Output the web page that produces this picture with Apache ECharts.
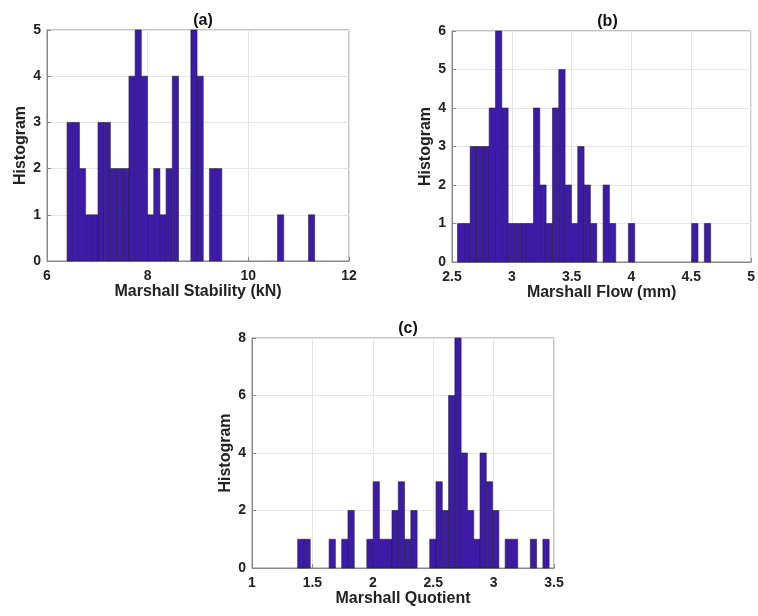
<!DOCTYPE html>
<html>
<head>
<meta charset="utf-8">
<style>
  html, body { margin: 0; padding: 0; background: #fff; }
  #main { width: 758px; height: 616px; }
</style>
<script src="https://cdn.jsdelivr.net/npm/echarts@6/dist/echarts.min.js"></script>
</head>
<body>
<div id="main"></div>
<script>
// (a) Marshall Stability (kN): 40 bins
var stabStart = 6.398;
var stabWidth = 0.123;
var stabCounts = [3,3,2,1,1,3,3,2,2,2,4,5,4,1,2,1,2,4,0,0,5,4,0,2,2,0,0,0,0,0,0,0,0,0,1,0,0,0,0,1];

// (b) Marshall Flow (mm)
var flowStart = 2.546;
var flowWidth = 0.0529;
var flowCounts = [1,1,3,3,3,4,6,4,1,1,1,1,4,2,1,4,5,2,1,3,2,1,0,2,1,0,0,1,0,0,0,0,0,0,0,0,0,1,0,1];

// (c) Marshall Quotient
var quotStart = 1.378;
var quotWidth = 0.05205;
var quotCounts = [1,1,0,0,0,1,0,1,2,0,0,1,3,1,1,2,3,1,2,0,0,1,3,2,6,8,4,2,1,4,3,2,0,1,1,0,0,1,0,1];

var titles = ['(a)', '(b)', '(c)'];
var xNames = ['Marshall Stability (kN)', 'Marshall Flow (mm)', 'Marshall Quotient'];

var chart = echarts.init(document.getElementById('main'), null, { renderer: 'canvas' });

var font = 'Liberation Sans, Arial, sans-serif';
var barColor = '#3d1ba8';

// histogram bins -> [left, right, count]
function toBins(start, width, counts) {
  var out = [];
  for (var i = 0; i < counts.length; i++) {
    if (counts[i] > 0) out.push([start + i * width, start + (i + 1) * width, counts[i]]);
  }
  return out;
}

function renderBar(params, api) {
  var p0 = api.coord([api.value(0), api.value(2)]);
  var p1 = api.coord([api.value(1), 0]);
  return {
    type: 'rect',
    shape: { x: p0[0], y: p0[1], width: p1[0] - p0[0], height: p1[1] - p0[1] },
    style: { fill: barColor, stroke: '#25243a', lineWidth: 0.6 }
  };
}

var grids = [
  { left: 47, top: 30, width: 302, height: 231 },
  { left: 452, top: 31, width: 301, height: 231 },
  { left: 252, top: 338, width: 302, height: 230 }
];

function xAxis(idx, min, max, interval) {
  return {
    type: 'value', gridIndex: idx, min: min, max: max, interval: interval,
    name: xNames[idx], nameLocation: 'middle', nameGap: 22,
    nameTextStyle: { fontFamily: font, fontWeight: 'bold', fontSize: 16, color: '#222' },
    axisLine: { show: true, lineStyle: { color: '#888', width: 1 } },
    axisTick: { show: true, inside: true, length: 4, lineStyle: { color: '#888' } },
    axisLabel: { fontFamily: font, fontWeight: 'bold', fontSize: 14, color: '#222', margin: 8 },
    splitLine: { show: true, lineStyle: { color: '#e6e6e6', width: 1 } }
  };
}

function yAxis(idx, max, interval) {
  return {
    type: 'value', gridIndex: idx, min: 0, max: max, interval: interval,
    name: 'Histogram', nameLocation: 'middle', nameGap: 18, nameRotate: 90,
    nameTextStyle: { fontFamily: font, fontWeight: 'bold', fontSize: 16, color: '#222' },
    axisLine: { show: true, lineStyle: { color: '#888', width: 1 } },
    axisTick: { show: true, inside: true, length: 4, lineStyle: { color: '#888' } },
    axisLabel: { fontFamily: font, fontWeight: 'bold', fontSize: 14, color: '#222', margin: 6 },
    splitLine: { show: true, lineStyle: { color: '#e6e6e6', width: 1 } }
  };
}

var option = {
  animation: false,
  backgroundColor: '#fff',
  title: grids.map(function (g, i) {
    return {
      text: titles[i], left: g.left + g.width / 2, top: g.top - 22, textAlign: 'center',
      textStyle: { fontFamily: font, fontWeight: 'bold', fontSize: 16, color: '#111' }
    };
  }),
  grid: grids.map(function (g) {
    return Object.assign({ show: true, borderColor: '#888', borderWidth: 1, backgroundColor: 'transparent' }, g);
  }),
  xAxis: [xAxis(0, 6, 12, 2), xAxis(1, 2.5, 5, 0.5), xAxis(2, 1, 3.5, 0.5)],
  yAxis: [yAxis(0, 5, 1), yAxis(1, 6, 1), yAxis(2, 8, 2)],
  series: [
    { type: 'custom', xAxisIndex: 0, yAxisIndex: 0, renderItem: renderBar, data: toBins(stabStart, stabWidth, stabCounts) },
    { type: 'custom', xAxisIndex: 1, yAxisIndex: 1, renderItem: renderBar, data: toBins(flowStart, flowWidth, flowCounts) },
    { type: 'custom', xAxisIndex: 2, yAxisIndex: 2, renderItem: renderBar, data: toBins(quotStart, quotWidth, quotCounts) }
  ]
};

chart.setOption(option);
</script>
</body>
</html>
